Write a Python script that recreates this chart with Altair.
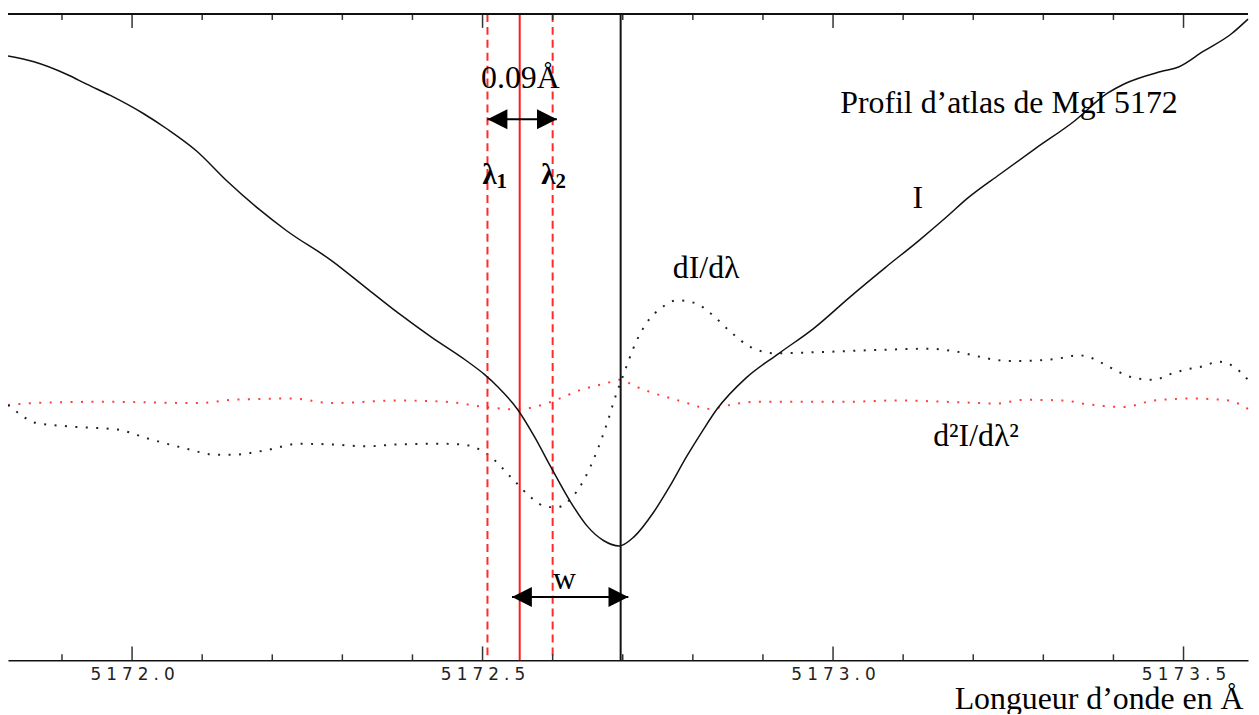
import altair as alt
import pandas as pd

# ---------------- data ----------------
# Intensity profile I (relative units) vs wavelength (Å)
I_wl = [5171.823, 5171.860, 5171.908, 5171.936, 5171.969, 5172.016, 5172.050, 5172.092,
        5172.135, 5172.181, 5172.220, 5172.285, 5172.333, 5172.380, 5172.427, 5172.475,
        5172.503, 5172.522, 5172.550, 5172.574, 5172.597, 5172.625, 5172.649, 5172.673,
        5172.695, 5172.716, 5172.744, 5172.767, 5172.791, 5172.815, 5172.834, 5172.876,
        5172.923, 5172.973, 5173.024, 5173.075, 5173.122, 5173.161, 5173.192, 5173.238,
        5173.289, 5173.344, 5173.391, 5173.416, 5173.468, 5173.493, 5173.528, 5173.568,
        5173.592]
I_val = [0.935, 0.926, 0.906, 0.891, 0.874, 0.846, 0.822, 0.788, 0.742, 0.698, 0.665,
         0.618, 0.577, 0.537, 0.500, 0.465, 0.442, 0.423, 0.388, 0.346, 0.300, 0.246,
         0.208, 0.185, 0.177, 0.191, 0.229, 0.269, 0.315, 0.357, 0.388, 0.437, 0.475,
         0.514, 0.562, 0.608, 0.649, 0.685, 0.715, 0.752, 0.792, 0.834, 0.877, 0.892,
         0.911, 0.918, 0.942, 0.969, 0.992]

# First derivative dI/dλ (scaled, offset)
D1_wl = [5171.823, 5171.841, 5171.860, 5171.908, 5171.979, 5172.026, 5172.072, 5172.121,
         5172.143, 5172.191, 5172.238, 5172.285, 5172.333, 5172.380, 5172.441, 5172.470,
         5172.490, 5172.508, 5172.546, 5172.569, 5172.593, 5172.607, 5172.625, 5172.645,
         5172.664, 5172.678, 5172.688, 5172.702, 5172.720, 5172.734, 5172.756, 5172.777,
         5172.805, 5172.825, 5172.856, 5172.882, 5172.917, 5172.984, 5173.059, 5173.136,
         5173.174, 5173.212, 5173.231, 5173.259, 5173.316, 5173.351, 5173.368, 5173.387,
         5173.408, 5173.429, 5173.458, 5173.479, 5173.500, 5173.528, 5173.550, 5173.571,
         5173.585, 5173.592]
D1_val = [0.395, 0.380, 0.368, 0.362, 0.357, 0.342, 0.329, 0.318, 0.318, 0.325, 0.335,
          0.334, 0.331, 0.334, 0.335, 0.334, 0.329, 0.318, 0.277, 0.252, 0.237, 0.237,
          0.249, 0.280, 0.326, 0.368, 0.403, 0.445, 0.495, 0.522, 0.546, 0.557, 0.552,
          0.537, 0.506, 0.485, 0.475, 0.477, 0.480, 0.482, 0.478, 0.469, 0.465, 0.463,
          0.466, 0.472, 0.468, 0.458, 0.446, 0.437, 0.434, 0.442, 0.449, 0.455, 0.462,
          0.455, 0.442, 0.434]

# Second derivative d²I/dλ² (scaled, offset)
D2_wl = [5171.823, 5171.860, 5171.955, 5172.096, 5172.143, 5172.228, 5172.285, 5172.380,
         5172.447, 5172.503, 5172.550, 5172.574, 5172.603, 5172.639, 5172.678, 5172.695,
         5172.720, 5172.742, 5172.767, 5172.795, 5172.822, 5172.862, 5172.890, 5172.947,
         5173.018, 5173.089, 5173.160, 5173.209, 5173.231, 5173.273, 5173.330, 5173.358,
         5173.415, 5173.458, 5173.514, 5173.564, 5173.592]
D2_val = [0.395, 0.398, 0.400, 0.398, 0.403, 0.405, 0.398, 0.402, 0.400, 0.392, 0.388,
          0.392, 0.402, 0.418, 0.429, 0.434, 0.423, 0.414, 0.406, 0.397, 0.389, 0.397,
          0.400, 0.400, 0.400, 0.402, 0.400, 0.398, 0.397, 0.403, 0.402, 0.397, 0.392,
          0.402, 0.405, 0.402, 0.389]

# Marked wavelengths
lam_dashed = [5172.507, 5172.600]      # λ1, λ2
lam_center = [5172.553]                # red solid line
lam_core = [5172.697]                  # line core (black)

# Double arrows (0.09 Å and w)
arrow_x1 = [5172.507, 5172.542]
arrow_x2 = [5172.606, 5172.708]
arrow_y = [0.837, 0.098]

# Text annotations
ann_text = ["0.09Å", "w", "Profil d’atlas de MgI 5172", "I", "dI/dλ", "d²I/dλ²"]
ann_x = [5172.554, 5172.617, 5173.251, 5173.121, 5172.819, 5173.204]
ann_y = [0.885, 0.111, 0.846, 0.700, 0.591, 0.331]

lam_lab_x = [5172.510, 5172.594]
lam_lab_y = [0.737, 0.737]
lam_sym = ["λ", "λ"]
lam_sub = ["1", "2"]

# Axis ticks
major_ticks = [5172.0, 5172.5, 5173.0, 5173.5]
minor_ticks = [5171.9, 5172.1, 5172.2, 5172.3, 5172.4, 5172.6, 5172.7, 5172.8, 5172.9,
               5173.1, 5173.2, 5173.3, 5173.4]

# ---------------- chart ----------------
W, H = 1247, 650
x_scale = alt.Scale(domain=[5171.823, 5173.592], nice=False, zero=False)
y_scale = alt.Scale(domain=[0, 1], nice=False, zero=False)

AX = alt.Axis(
    values=major_ticks, format=".1f",
    labelExpr="join(split(datum.label, ''), '\u2009\u200a')",
    labelFont="DejaVu Sans", labelFontSize=17, labelColor="#222",
    labelPadding=6, labelFlush=False, labelOverlap=False,
    ticks=False, tickSize=0, domain=True, domainColor="#111", domainWidth=1.5,
    grid=False,
    title="Longueur d’onde en Å", titleFont="Liberation Serif", titleFontSize=32,
    titleFontWeight="normal", titleColor="#000", titleAnchor="end", titleAlign="right",
    titleBaseline="alphabetic", titleX=W - 5, titleY=48,
)


def xq(field):
    return alt.X(f"{field}:Q", scale=x_scale, axis=AX)


def yq(field):
    return alt.Y(f"{field}:Q", scale=y_scale, axis=None)


df_I = pd.DataFrame({"wl": I_wl, "v": I_val})
df_D1 = pd.DataFrame({"wl": D1_wl, "v": D1_val})
df_D2 = pd.DataFrame({"wl": D2_wl, "v": D2_val})

d2_line = alt.Chart(df_D2).mark_line(
    color="#ff3b3b", strokeWidth=2, strokeDash=[2, 8.5], strokeCap="butt",
    interpolate="monotone").encode(x=xq("wl"), y=yq("v"))
d1_line = alt.Chart(df_D1).mark_line(
    color="#222", strokeWidth=2, strokeDash=[2, 8.5], strokeCap="butt",
    interpolate="monotone").encode(x=xq("wl"), y=yq("v"))

dashed = alt.Chart(pd.DataFrame({"wl": lam_dashed})).mark_rule(
    color="#ff2a2a", strokeWidth=2, strokeDash=[8, 5]).encode(x=xq("wl"))
center = alt.Chart(pd.DataFrame({"wl": lam_center})).mark_rule(
    color="#ff1a1a", strokeWidth=2).encode(x=xq("wl"))
core = alt.Chart(pd.DataFrame({"wl": lam_core})).mark_rule(
    color="#111", strokeWidth=2).encode(x=xq("wl"))

I_line = alt.Chart(df_I).mark_line(
    color="#111", strokeWidth=1.5, interpolate="monotone").encode(x=xq("wl"), y=yq("v"))

df_arrow = pd.DataFrame({"x1": arrow_x1, "x2": arrow_x2, "y": arrow_y})
shafts = alt.Chart(df_arrow).mark_rule(color="#000", strokeWidth=2).encode(
    x=xq("x1"), x2="x2:Q", y=yq("y"))
left_heads = alt.Chart(df_arrow).mark_point(
    shape="M0,0L2,-1L2,1Z", size=400, filled=True, color="#000", opacity=1,
    strokeWidth=0).encode(x=xq("x1"), y=yq("y"))
right_heads = alt.Chart(df_arrow).mark_point(
    shape="M0,0L-2,-1L-2,1Z", size=400, filled=True, color="#000", opacity=1,
    strokeWidth=0).encode(x=xq("x2"), y=yq("y"))

df_ann = pd.DataFrame({"x": ann_x, "y": ann_y, "t": ann_text})
ann = alt.Chart(df_ann).mark_text(
    font="Liberation Serif", fontSize=32, color="#000", align="center",
    baseline="alphabetic").encode(x=xq("x"), y=yq("y"), text="t:N")

df_lam = pd.DataFrame({"x": lam_lab_x, "y": lam_lab_y, "s": lam_sym, "sub": lam_sub})
lam_txt = alt.Chart(df_lam).mark_text(
    font="Liberation Serif", fontSize=29, fontWeight="bold", color="#000",
    align="center", baseline="alphabetic").encode(x=xq("x"), y=yq("y"), text="s:N")
lam_sub_txt = alt.Chart(df_lam).mark_text(
    font="Liberation Serif", fontSize=21, fontWeight="bold", color="#000",
    align="left", baseline="alphabetic", dx=7, dy=4).encode(x=xq("x"), y=yq("y"), text="sub:N")

df_minor = pd.DataFrame({"t": minor_ticks})
df_major = pd.DataFrame({"t": major_ticks})
tick_color = "#333"
bot_minor = alt.Chart(df_minor).mark_rule(color=tick_color, strokeWidth=1.5).encode(
    x=xq("t"), y=alt.value(H - 6), y2=alt.value(H))
bot_major = alt.Chart(df_major).mark_rule(color=tick_color, strokeWidth=1.5).encode(
    x=xq("t"), y=alt.value(H - 14), y2=alt.value(H))
top_minor = alt.Chart(df_minor).mark_rule(color=tick_color, strokeWidth=1.5).encode(
    x=xq("t"), y=alt.value(0), y2=alt.value(6))
top_major = alt.Chart(df_major).mark_rule(color=tick_color, strokeWidth=1.5).encode(
    x=xq("t"), y=alt.value(0), y2=alt.value(14))
top_line = alt.Chart(df_major).mark_rule(color="#111", strokeWidth=1.5).encode(
    x=alt.value(0), x2=alt.value(W), y=alt.value(0))

chart = alt.layer(
    d2_line, d1_line, dashed, center, core, I_line,
    shafts, left_heads, right_heads, ann, lam_txt, lam_sub_txt,
    bot_minor, bot_major, top_minor, top_major, top_line,
).properties(
    width=W, height=H,
    autosize=alt.AutoSizeParams(type="none"),
    padding={"left": 0, "top": 4, "right": 3, "bottom": 52},
    background="white",
).configure_view(stroke=None)

chart.save("out.html", embed_options={"renderer": "svg", "actions": False})
